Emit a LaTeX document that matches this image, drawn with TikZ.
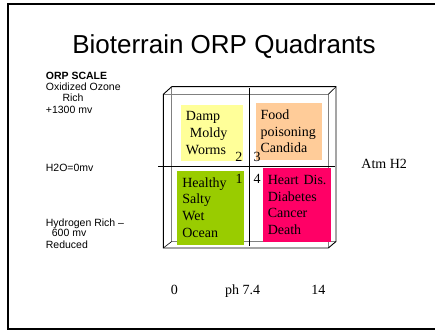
\documentclass[tikz,border=0pt]{standalone}
\usepackage{fontspec}
\setmainfont{Liberation Serif}
\newfontfamily\arialfont{Liberation Sans}
\definecolor{dampyellow}{HTML}{FFFF99}
\definecolor{foodorange}{HTML}{FFCC99}
\definecolor{oceangreen}{HTML}{99CC00}
\definecolor{heartred}{HTML}{FF0066}

\begin{document}
\begin{tikzpicture}[x=1pt,y=-1pt,
    quad/.style={inner xsep=5pt,inner ysep=0pt,align=left,font=\fontsize{14}{16.7}\selectfont},
    scalelabel/.style={anchor=base west,inner sep=0pt,font=\arialfont\fontsize{10.5}{12}\selectfont},
    seriflabel/.style={anchor=base,inner sep=0pt,font=\fontsize{14}{16}\selectfont},
    backline/.style={draw=black!50,line width=0.8pt}]
  \useasboundingbox (0,0) rectangle (435,331);
  % slide frame
  \draw[line width=2pt] (436,4) -- (8,4) -- (8,329) -- (436,329);
  \node[anchor=base,inner sep=0pt,font=\arialfont\fontsize{26}{30}\selectfont] (title) at (224,54) {Bioterrain ORP Quadrants};

  % orp scale
  \node[scalelabel,font=\arialfont\bfseries\fontsize{10.5}{12}\selectfont] (orp) at (45.7,79.5) {ORP SCALE};
  \node[scalelabel] (oxid) at (45.7,90.5) {Oxidized Ozone};
  \node[scalelabel] (rich) at (62.3,101.1) {Rich};
  \node[scalelabel] (plus) at (45.7,113.1) {+1300 mv};
  \node[scalelabel] (water) at (45.7,171.1) {H2O=0mv};
  \node[scalelabel] (hydro) at (45.7,226.1) {Hydrogen Rich –};
  \node[scalelabel] (minus) at (51.7,236.5) {600 mv};
  \node[scalelabel] (reduced) at (45.7,248.8) {Reduced};

  % the box
  \coordinate (fnw) at (163.3,94.3);
  \coordinate (fne) at (328.3,94.3);
  \coordinate (fsw) at (163.3,248);
  \coordinate (fse) at (328.3,248);
  \coordinate (bnw) at (171.7,86.7);
  \coordinate (bne) at (336,86.7);
  \coordinate (bsw) at (171.7,241.5);
  \coordinate (bse) at (336,241.5);
  \draw[backline] (fnw) -- (fne) -- (fse);
  \draw[backline] (bnw) -- (bsw) -- (bse);
  \draw[line width=0.6pt] (fsw) -- (bsw);
  \draw[line width=0.9pt] (fsw) -- (fnw) -- (bnw) -- (bne) -- (bse) -- (fse) -- cycle;
  \draw[line width=0.6pt] (fne) -- (bne);

  % axes
  \coordinate (ctop) at (249.3,88);
  \coordinate (cbot) at (249.3,246);
  \coordinate (cleft) at (158,166.7);
  \coordinate (cright) at (335,166.7);
  \draw[line width=0.8pt] (ctop) -- (cbot);
  \draw[line width=0.8pt] (cleft) -- (cright);

  % quadrants
  \node[quad,fill=dampyellow,text width=51.7pt,minimum height=56pt] (damp) at (211.8,133)
    {Damp\\\hspace*{4pt}Moldy\\Worms};
  \node[quad,fill=foodorange,inner xsep=4.7pt,text width=56.3pt,minimum height=56.6pt] (food) at (288.8,131.5)
    {Food\\poisoning\\Candida};
  \node[quad,fill=oceangreen,text width=56.7pt,minimum height=74pt] (ocean) at (210.7,207.5)
    {Healthy\\Salty\\Wet\\Ocean};
  \node[quad,fill=heartred,inner xsep=4.4pt,text width=58.9pt,minimum height=74pt] (heart) at (297.2,205)
    {Heart Dis.\\Diabetes\\Cancer\\Death};

  \node[seriflabel] (q2) at (238.8,161.7) {2};
  \node[seriflabel] (q3) at (257,161.7) {3};
  \node[seriflabel] (q1) at (239,183.3) {1};
  \node[seriflabel] (q4) at (257,183.7) {4};

  \node[seriflabel] (atm) at (384.2,168) {Atm H2};
  \node[seriflabel] (ph0) at (174.3,294.7) {0};
  \node[seriflabel] (ph7) at (242.7,294.7) {ph 7.4};
  \node[seriflabel] (ph14) at (318.3,294.7) {14};
\end{tikzpicture}
\end{document}
